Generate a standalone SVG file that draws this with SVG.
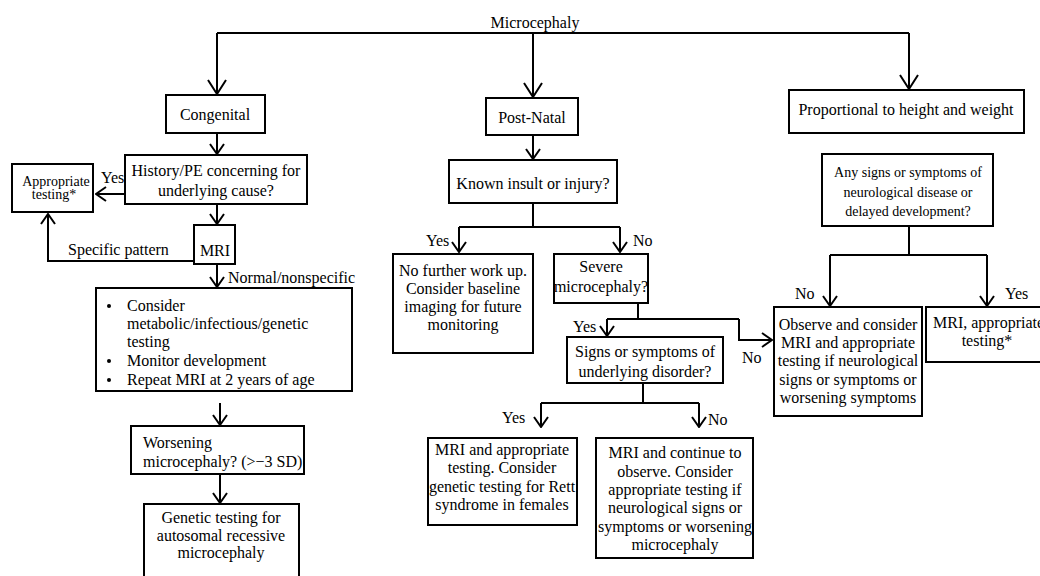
<svg xmlns="http://www.w3.org/2000/svg" width="1040" height="576" viewBox="0 0 1040 576">
<style>
rect{fill:#fff;stroke:#000;stroke-width:2}
text{font-family:"Times New Roman",Times,"Liberation Serif","DejaVu Serif","Noto Serif",serif;font-size:16px;fill:#000}
.c{text-anchor:middle}
.s{font-size:14px}
.k{fill:none;stroke:#000;stroke-width:2}
</style>
<defs>
<marker id="a" viewBox="0 0 12 16" refX="11" refY="8" markerWidth="12" markerHeight="16" orient="auto" markerUnits="userSpaceOnUse"><path d="M1,1 L11,8 L1,15" fill="none" stroke="#000" stroke-width="2"/></marker>
<marker id="b" viewBox="0 0 16 20" refX="15" refY="10" markerWidth="16" markerHeight="20" orient="auto" markerUnits="userSpaceOnUse"><path d="M1,1 L15,10 L1,19" fill="none" stroke="#000" stroke-width="2"/></marker>
</defs>
<text class="c" x="535" y="28">Microcephaly</text>
<g id="connectors" class="k">
<path d="M217,33 H909"/>
<path d="M217,33 V94" marker-end="url(#b)"/>
<path d="M533,33 V97" marker-end="url(#b)"/>
<path d="M909,33 V89" marker-end="url(#b)"/>
<path d="M217,133 V154" marker-end="url(#a)"/>
<path d="M125,194 H96" marker-end="url(#a)"/>
<path d="M217,204 V224" marker-end="url(#a)"/>
<path d="M194,261 H48 V214" marker-end="url(#a)"/>
<path d="M217,264 V287" marker-end="url(#a)"/>
<path d="M220,403 V425" marker-end="url(#a)"/>
<path d="M220,474 V503" marker-end="url(#a)"/>
<path d="M533,135 V159" marker-end="url(#a)"/>
<path d="M533,203 V227"/>
<path d="M459,227 H620"/>
<path d="M459,227 V252" marker-end="url(#a)"/>
<path d="M620,227 V252" marker-end="url(#a)"/>
<path d="M638,303 V319"/>
<path d="M607,319 H739"/>
<path d="M607,319 V336" marker-end="url(#a)"/>
<path d="M739,319 V340 H772" marker-end="url(#a)"/>
<path d="M643,383 V403"/>
<path d="M541,403 H699"/>
<path d="M541,403 V427" marker-end="url(#a)"/>
<path d="M699,403 V427" marker-end="url(#a)"/>
<path d="M909,226 V255"/>
<path d="M830,255 H987"/>
<path d="M830,255 V306" marker-end="url(#a)"/>
<path d="M987,255 V306" marker-end="url(#a)"/>
</g>
<g id="labels">
<text x="101" y="183">Yes</text>
<text x="68" y="255">Specific pattern</text>
<text x="228" y="283">Normal/nonspecific</text>
<text x="426" y="246">Yes</text>
<text x="633" y="246">No</text>
<text x="573" y="332">Yes</text>
<text x="742" y="363">No</text>
<text x="502" y="423">Yes</text>
<text x="708" y="425">No</text>
<text x="795" y="299">No</text>
<text x="1005" y="299">Yes</text>
</g>
<g id="congenital"><rect x="166" y="95" width="99" height="38"/><text class="c" x="215" y="120">Congenital</text></g>
<g id="history"><rect x="125" y="155" width="182" height="49"/><text class="c" x="216" y="176">History/PE concerning for</text><text class="c" x="216" y="196">underlying cause?</text></g>
<g id="appropriate"><rect x="12" y="164" width="81" height="48"/><text class="c s" x="56" y="186">Appropriate</text><text class="c s" x="54" y="199">testing*</text></g>
<g id="mri"><rect x="194" y="225" width="41" height="39"/><text class="c" x="215" y="256">MRI</text></g>
<g id="consider"><rect x="96" y="288" width="256" height="103"/>
<circle cx="109" cy="306" r="2"/><circle cx="109" cy="361" r="2"/><circle cx="109" cy="380" r="2"/>
<text x="127" y="311">Consider</text><text x="127" y="329">metabolic/infectious/genetic</text><text x="127" y="347">testing</text><text x="127" y="366">Monitor development</text><text x="127" y="385">Repeat MRI at 2 years of age</text></g>
<g id="worsening"><rect x="131" y="426" width="173" height="48"/><text x="143" y="448">Worsening</text><text x="143" y="467">microcephaly? (&gt;−3 SD)</text></g>
<g id="genetic"><rect x="144" y="504" width="155" height="80"/><text class="c" x="221" y="523">Genetic testing for</text><text class="c" x="221" y="541">autosomal recessive</text><text class="c" x="221" y="558">microcephaly</text></g>
<g id="postnatal"><rect x="486" y="98" width="92" height="37"/><text class="c" x="532" y="123">Post-Natal</text></g>
<g id="known"><rect x="449" y="160" width="168" height="43"/><text class="c" x="533" y="189">Known insult or injury?</text></g>
<g id="nofurther"><rect x="393" y="254" width="140" height="99"/><text class="c" x="463" y="276">No further work up.</text><text class="c" x="463" y="294">Consider baseline</text><text class="c" x="463" y="312">imaging for future</text><text class="c" x="463" y="330">monitoring</text></g>
<g id="severe"><rect x="554" y="254" width="94" height="49"/><text class="c" x="601" y="272">Severe</text><text class="c" x="601" y="292">microcephaly?</text></g>
<g id="signs"><rect x="567" y="337" width="156" height="46"/><text class="c" x="645" y="357">Signs or symptoms of</text><text class="c" x="645" y="377">underlying disorder?</text></g>
<g id="mriappr"><rect x="428" y="438" width="149" height="87"/><text class="c" x="502" y="455">MRI and appropriate</text><text class="c" x="502" y="473">testing. Consider</text><text class="c" x="502" y="492">genetic testing for Rett</text><text class="c" x="502" y="510">syndrome in females</text></g>
<g id="mricont"><rect x="596" y="438" width="157" height="120"/><text class="c" x="675" y="458">MRI and continue to</text><text class="c" x="675" y="477">observe. Consider</text><text class="c" x="675" y="495">appropriate testing if</text><text class="c" x="675" y="513">neurological signs or</text><text class="c" x="675" y="532">symptoms or worsening</text><text class="c" x="675" y="550">microcephaly</text></g>
<g id="proportional"><rect x="789" y="90" width="235" height="43"/><text class="c" x="906" y="115">Proportional to height and weight</text></g>
<g id="anysigns"><rect x="822" y="154" width="171" height="72"/><text class="c s" x="908" y="177">Any signs or symptoms of</text><text class="c s" x="908" y="197">neurological disease or</text><text class="c s" x="908" y="216">delayed development?</text></g>
<g id="observe"><rect x="774" y="307" width="148" height="109"/><text class="c" x="848" y="330">Observe and consider</text><text class="c" x="848" y="348">MRI and appropriate</text><text class="c" x="848" y="366">testing if neurological</text><text class="c" x="848" y="385">signs or symptoms or</text><text class="c" x="848" y="403">worsening symptoms</text></g>
<g id="mriright"><rect x="926" y="307" width="130" height="55"/><text x="933" y="328">MRI, appropriate</text><text class="c" x="987" y="346">testing*</text></g>
</svg>
